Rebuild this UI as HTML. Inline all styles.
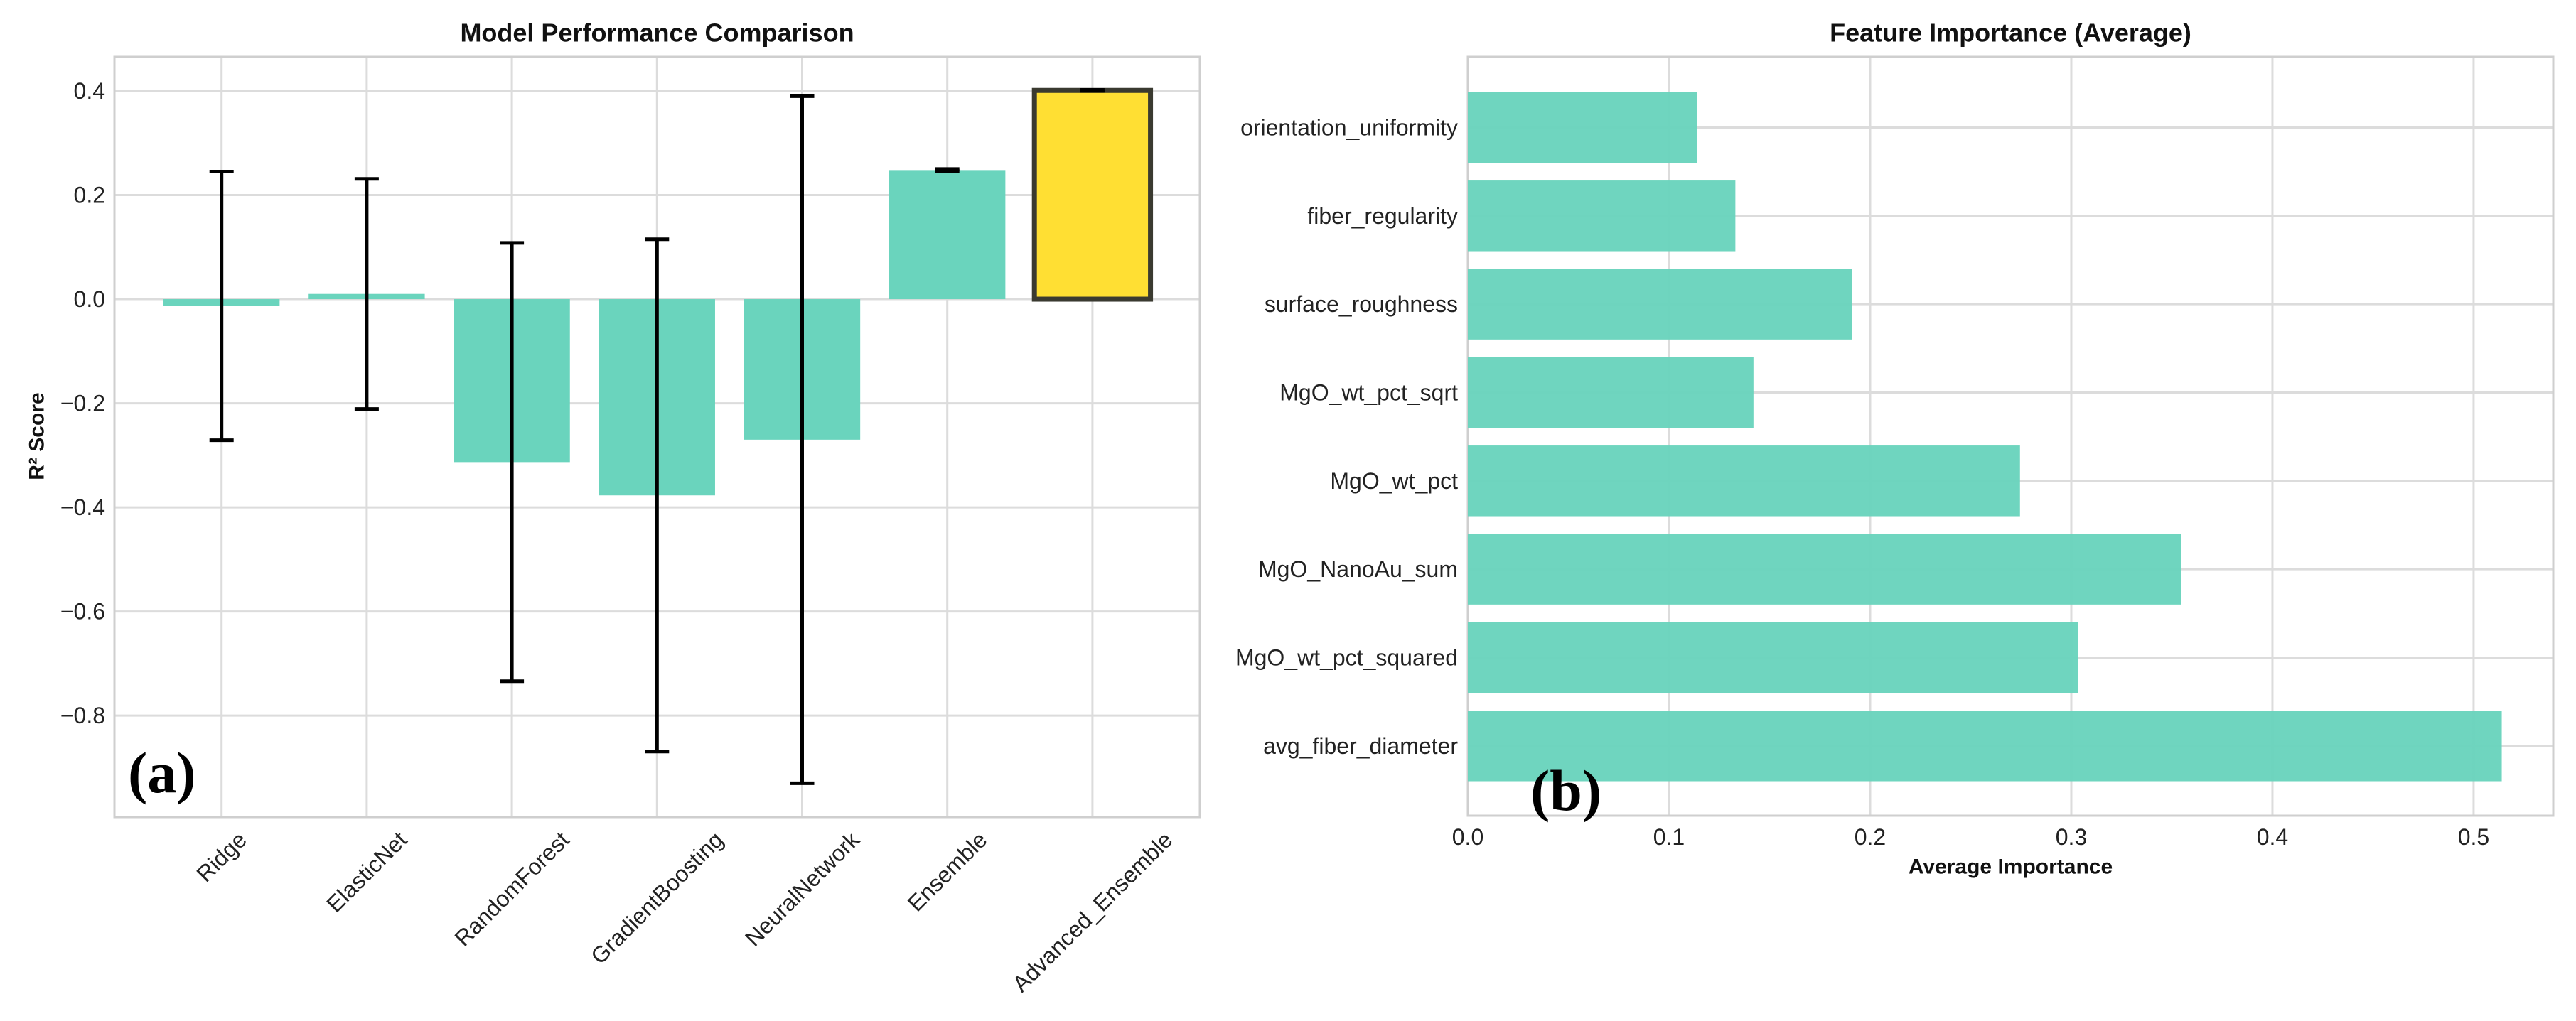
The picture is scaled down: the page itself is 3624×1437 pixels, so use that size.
<!DOCTYPE html>
<html><head><meta charset="utf-8"><style>
html,body{margin:0;padding:0;background:#fff;}
svg{display:block;font-family:"Liberation Sans",Arial,sans-serif;}
</style></head><body>
<svg id="fig" width="3624" height="1437" viewBox="0 0 3624 1437" xmlns="http://www.w3.org/2000/svg">
<rect width="3624" height="1437" fill="#fff"/>
<g id="left"></g>
<g id="right"></g>
</svg>
<script>
const models = ["Ridge","ElasticNet","RandomForest","GradientBoosting","NeuralNetwork","Ensemble","Advanced_Ensemble"];
const r2Scores = [-0.013, 0.010, -0.313, -0.377, -0.270, 0.248, 0.401];
const r2Errors = [0.258, 0.221, 0.421, 0.492, 0.660, 0.002, 0.001];
const r2Ticks = [0.4, 0.2, 0.0, -0.2, -0.4, -0.6, -0.8];
const r2TickLabels = ["0.4","0.2","0.0","\u22120.2","\u22120.4","\u22120.6","\u22120.8"];

const features = ["avg_fiber_diameter","MgO_wt_pct_squared","MgO_NanoAu_sum","MgO_wt_pct","MgO_wt_pct_sqrt","surface_roughness","fiber_regularity","orientation_uniformity"];
const importances = [0.514, 0.3035, 0.3546, 0.2745, 0.142, 0.191, 0.133, 0.114];
const impTicks = [0.0, 0.1, 0.2, 0.3, 0.4, 0.5];
const impTickLabels = ["0.0","0.1","0.2","0.3","0.4","0.5"];

const NS = "http://www.w3.org/2000/svg";
function mk(parent, tag, attrs, text){
  const e = document.createElementNS(NS, tag);
  for (const k in attrs) e.setAttribute(k, attrs[k]);
  if (text !== undefined) e.textContent = text;
  parent.appendChild(e);
  return e;
}
const GRID = "#dcdcdc", TEAL = "#6ad4bd";

// ---------- Left chart ----------
const L = document.getElementById("left");
const lx0 = 161, lx1 = 1688, ly0 = 80, ly1 = 1150;
const xminL = -0.738, xmaxL = 6.74, yminL = -0.995, ymaxL = 0.4655;
const xL = i => lx0 + (i - xminL) / (xmaxL - xminL) * (lx1 - lx0);
const yL = v => ly1 - (v - yminL) / (ymaxL - yminL) * (ly1 - ly0);

r2Ticks.forEach((t, i) => {
  const gl = mk(L, "line", {x1: lx0, x2: lx1, y1: yL(t), y2: yL(t), stroke: GRID, "stroke-width": 3});
  
  
  const tl = mk(L, "text", {x: 148, y: yL(t), "text-anchor": "end", "dominant-baseline": "central", "font-size": 32, fill: "#222"}, r2TickLabels[i]);
  
  
});
models.forEach((m, i) => {
  const gl = mk(L, "line", {x1: xL(i), x2: xL(i), y1: ly0, y2: ly1, stroke: GRID, "stroke-width": 3});
  
  
});
const spL = mk(L, "rect", {x: lx0, y: ly0, width: lx1 - lx0, height: ly1 - ly0, fill: "none", stroke: "#cfcfcf", "stroke-width": 3});



const bw = 0.8;
models.forEach((m, i) => {
  const v = r2Scores[i];
  const top = Math.min(yL(v), yL(0)), h = Math.abs(yL(v) - yL(0));
  const isAdv = i === models.length - 1;
  const b = mk(L, "rect", {x: xL(i - bw/2), y: top, width: xL(i + bw/2) - xL(i - bw/2), height: h,
    fill: isAdv ? "#ffdf33" : TEAL, stroke: isAdv ? "#3a3a30" : "none", "stroke-width": isAdv ? 7 : 0});
  
  
  const e = r2Errors[i], cx = xL(i);
  const eb = mk(L, "g", {stroke: "#000", "stroke-width": 5});
  
  
  mk(eb, "line", {x1: cx, x2: cx, y1: yL(v + e), y2: yL(v - e)});
  mk(eb, "line", {x1: cx - 17, x2: cx + 17, y1: yL(v + e), y2: yL(v + e)});
  mk(eb, "line", {x1: cx - 17, x2: cx + 17, y1: yL(v - e), y2: yL(v - e)});
});
models.forEach((m, i) => {
  const t = mk(L, "text", {"text-anchor": "middle", "dominant-baseline": "central", "font-size": 32, fill: "#222"}, m);
  
  
  const w = t.getComputedTextLength(), h = 32;
  const cy = 1165 + (w + h) / (2 * Math.SQRT2);
  t.setAttribute("x", xL(i)); t.setAttribute("y", cy);
  t.setAttribute("transform", `rotate(-45 ${xL(i)} ${cy})`);
});
const tL = mk(L, "text", {x: (lx0 + lx1) / 2, y: 46, "text-anchor": "middle", "dominant-baseline": "central", "font-size": 36, "font-weight": "bold", fill: "#111"}, "Model Performance Comparison");


const yt = mk(L, "text", {x: 52, y: 614, "text-anchor": "middle", "dominant-baseline": "central", "font-size": 30, "font-weight": "bold", fill: "#111", transform: "rotate(-90 52 614)"}, "R\u00b2 Score");


const pa = mk(L, "text", {x: 180, y: 1115, "font-size": 82, "font-weight": "bold", "font-family": "Liberation Serif, serif", fill: "#000"}, "(a)");



// ---------- Right chart ----------
const R = document.getElementById("right");
const rx0 = 2065, rx1 = 3592, ry0 = 80, ry1 = 1148;
const xminR = 0, xmaxR = 0.5396, yminR = -0.79, ymaxR = 7.8;
const xR = v => rx0 + (v - xminR) / (xmaxR - xminR) * (rx1 - rx0);
const yR = i => ry1 - (i - yminR) / (ymaxR - yminR) * (ry1 - ry0);

impTicks.forEach((t, i) => {
  const gl = mk(R, "line", {x1: xR(t), x2: xR(t), y1: ry0, y2: ry1, stroke: GRID, "stroke-width": 3});
  
  
  const tl = mk(R, "text", {x: xR(t), y: 1178, "text-anchor": "middle", "dominant-baseline": "central", "font-size": 32, fill: "#222"}, impTickLabels[i]);
  
  
});
features.forEach((f, i) => {
  const gl = mk(R, "line", {x1: rx0, x2: rx1, y1: yR(i), y2: yR(i), stroke: GRID, "stroke-width": 3});
  
  
  const tl = mk(R, "text", {x: 2051, y: yR(i), "text-anchor": "end", "dominant-baseline": "central", "font-size": 32, fill: "#222"}, f);
  
  
});
const spR = mk(R, "rect", {x: rx0, y: ry0, width: rx1 - rx0, height: ry1 - ry0, fill: "none", stroke: "#cfcfcf", "stroke-width": 3});


features.forEach((f, i) => {
  const b = mk(R, "rect", {x: xR(0), y: yR(i + 0.4), width: xR(importances[i]) - xR(0), height: yR(i - 0.4) - yR(i + 0.4), fill: TEAL, "fill-opacity": 0.97});
  
  
});
const tR = mk(R, "text", {x: (rx0 + rx1) / 2, y: 46, "text-anchor": "middle", "dominant-baseline": "central", "font-size": 36, "font-weight": "bold", fill: "#111"}, "Feature Importance (Average)");


const xt = mk(R, "text", {x: (rx0 + rx1) / 2, y: 1220, "text-anchor": "middle", "dominant-baseline": "central", "font-size": 30, "font-weight": "bold", fill: "#111"}, "Average Importance");


const pb = mk(R, "text", {x: 2153, y: 1140, "font-size": 82, "font-weight": "bold", "font-family": "Liberation Serif, serif", fill: "#000"}, "(b)");


</script>
</body></html>
